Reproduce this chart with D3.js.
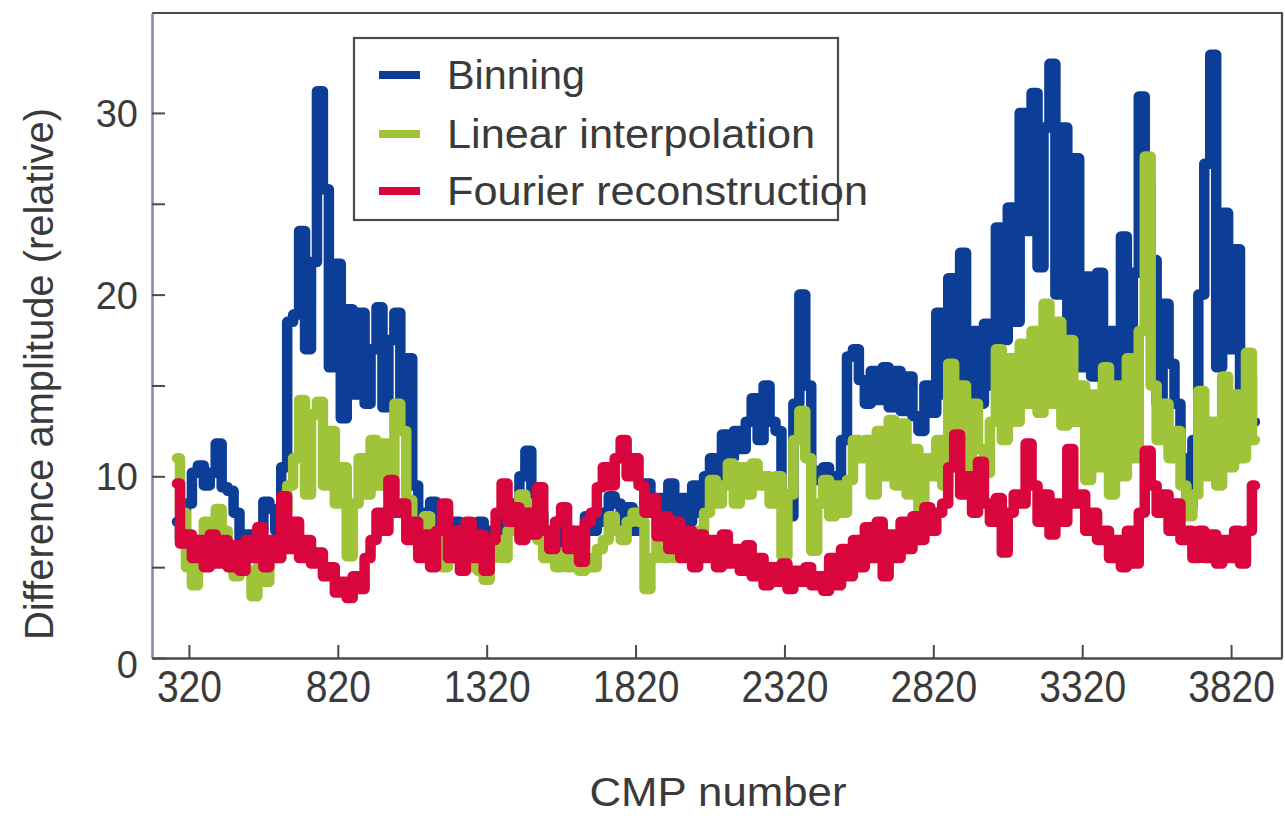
<!DOCTYPE html>
<html>
<head>
<meta charset="utf-8">
<script src="https://cdn.jsdelivr.net/npm/d3@7"></script>
<style>
  html, body { margin: 0; padding: 0; background: #ffffff; }
  svg { display: block; }
  text { font-family: "Liberation Sans", Arial, Helvetica, sans-serif; fill: #3a3a3a; }
</style>
</head>
<body>
<svg id="chart" width="1285" height="816"></svg>
<script>
// CMP sampling grid (one value every 20 CMPs, from CMP 280)
const cmpStart = 280;
const cmpStep = 20;

// Difference amplitude for each regularisation method
const binning = [
  7.5, 6.5, 8.5, 10.2, 10.6, 9.5, 10.2, 11.8, 9.4, 9.2,
  8.0, 6.5, 6.8, 6.0, 7.0, 8.6, 8.2, 7.0, 10.5, 18.5,
  18.9, 23.5, 17.0, 21.8, 31.2, 25.8, 16.0, 21.7, 13.2, 19.2,
  14.5, 19.0, 14.0, 17.0, 19.3, 13.8, 17.5, 19.0, 13.0, 16.5,
  9.5, 7.0, 8.0, 8.6, 7.0, 8.2, 6.5, 7.5, 6.0, 7.0,
  6.5, 7.5, 6.0, 7.0, 6.5, 7.5, 7.0, 8.5, 10.0, 11.4,
  9.0, 8.0, 7.0, 6.5, 7.5, 6.0, 7.0, 6.5, 6.0, 7.8,
  7.0, 7.5, 8.0, 8.9, 8.5, 7.5, 8.3, 7.0, 8.0, 9.6,
  8.0, 8.8, 7.5, 9.6, 8.0, 8.8, 7.5, 9.5, 8.0, 10.0,
  11.0, 10.0, 12.3, 11.0, 12.5, 11.5, 13.0, 14.3, 12.0, 15.0,
  13.0, 12.5, 9.0, 7.8, 14.0, 20.0, 15.0, 10.3, 9.8, 10.5,
  9.5, 10.0, 12.0, 16.6, 17.0, 15.3, 14.0, 15.8, 14.2, 16.0,
  13.8, 15.8, 13.6, 15.5, 13.3, 12.5, 15.0, 13.5, 19.0, 14.5,
  20.9, 15.0, 22.3, 14.5, 18.0, 14.0, 18.4, 15.0, 23.7, 17.5,
  24.8, 18.5, 30.0, 23.5, 31.1, 21.5, 29.2, 32.7, 20.0, 29.2,
  17.0, 27.5, 16.0, 21.0, 15.5, 21.2, 14.5, 18.0, 14.0, 23.2,
  15.0, 21.2, 30.9, 26.0, 21.9, 14.0, 19.5, 16.2, 14.0, 11.0,
  8.3, 12.0, 20.0, 27.2, 33.2, 16.0, 24.5, 17.0, 22.5, 14.0,
  15.5, 13.0
];

const linearInterp = [
  11.0, 8.0, 5.0, 4.0, 6.5, 7.5, 6.0, 8.2, 7.0, 5.5,
  4.5, 6.0, 4.8, 3.4, 5.0, 4.2, 6.0, 5.5, 8.0, 9.5,
  11.0, 14.2, 9.0, 13.4, 14.1, 9.5, 12.5, 8.5, 10.5, 5.6,
  8.5, 11.0, 9.0, 12.0, 9.5, 11.8, 9.0, 14.0, 12.5, 8.7,
  7.5, 6.0, 7.8, 5.5, 6.8, 5.0, 6.5, 5.5, 7.0, 5.0,
  6.5, 4.8, 4.3, 5.5, 6.5, 5.5, 7.0, 8.0, 9.0, 8.5,
  8.0, 6.5, 5.5, 6.0, 5.0, 5.8, 5.0, 5.5, 4.8, 5.5,
  5.0, 6.0, 6.5, 7.8, 7.0, 6.5, 7.5, 8.0, 7.5, 3.8,
  5.5, 6.5, 5.5, 6.0, 5.5, 6.5, 5.8, 6.5, 7.0, 8.0,
  9.8, 8.5, 9.5, 10.7, 8.5, 10.5, 9.0, 10.7, 9.5, 10.0,
  8.5, 10.0, 5.6, 9.0, 12.0, 13.6, 11.0, 5.9, 8.5, 9.8,
  7.8, 9.5, 8.0, 9.8, 12.0, 11.0, 12.0, 9.0, 12.5, 10.0,
  13.1, 9.5, 12.9, 9.0, 11.5, 8.1, 11.0, 10.0, 12.0, 9.5,
  16.2, 11.0, 15.0, 10.5, 14.0, 11.5, 10.2, 13.0, 17.0, 12.0,
  16.5, 13.0, 17.3, 14.0, 18.0, 13.5, 19.5, 14.0, 18.5, 12.8,
  17.5, 13.0, 15.0, 9.8, 14.5, 10.5, 16.0, 9.0, 15.0, 10.0,
  16.5, 11.0, 18.0, 27.6, 15.0, 12.0, 14.0, 11.0, 12.5, 9.5,
  7.8, 9.0, 14.7, 10.0, 13.0, 9.5, 15.5, 10.5, 14.5, 11.0,
  16.8, 12.0
];

const fourier = [
  9.6, 6.3, 6.8, 5.5, 6.5, 5.0, 6.8, 5.2, 6.5, 5.0,
  6.2, 4.8, 6.5, 5.5, 7.2, 5.0, 6.5, 5.5, 8.9, 6.0,
  7.5, 5.5, 6.5, 5.2, 5.8, 4.5, 5.0, 3.6, 4.2, 3.3,
  4.5, 3.8, 5.5, 6.5, 8.0, 7.0, 9.8, 8.0, 8.5, 6.5,
  7.5, 5.5, 6.8, 5.0, 7.0, 8.5, 5.5, 7.0, 4.8, 7.5,
  5.5, 6.8, 4.8, 6.5, 8.0, 9.6, 7.5, 8.3, 6.5, 8.0,
  6.8, 9.4, 7.0, 6.0, 7.5, 8.3, 6.0, 7.0, 5.3, 7.5,
  8.0, 9.4, 10.5, 9.5, 11.0, 12.0, 10.0, 11.0, 9.5, 8.0,
  8.8, 6.7, 7.8, 6.0, 7.5, 5.5, 7.0, 5.0, 6.8, 5.5,
  6.5, 5.0, 6.8, 5.2, 6.0, 4.8, 6.2, 4.5, 5.5, 4.0,
  5.0, 4.2, 5.2, 3.8, 4.8, 4.2, 5.0, 4.0, 4.5, 3.7,
  5.5, 4.0, 6.0, 4.5, 6.5, 5.0, 7.2, 5.5, 7.5, 4.5,
  6.8, 5.5, 7.5, 6.0, 7.8, 6.5, 8.3, 7.0, 8.0, 8.5,
  10.5, 12.3, 9.0, 10.0, 8.0, 10.8, 8.5, 7.5, 8.8, 5.8,
  8.0, 9.0, 8.5, 11.8, 9.5, 7.5, 9.0, 6.8, 8.5, 7.5,
  11.5, 8.5, 9.0, 7.0, 8.0, 6.5, 7.0, 5.5, 6.5, 5.0,
  7.0, 5.2, 8.0, 11.4, 9.5, 8.0, 9.0, 7.0, 8.5, 6.5,
  7.0, 5.5, 7.0, 5.5, 6.8, 5.2, 6.5, 5.5, 7.0, 5.2,
  7.0, 9.5
];

const seriesNames = ["Binning", "Linear interpolation", "Fourier reconstruction"];
const seriesColors = ["#0c3d97", "#9fc43a", "#d9063d"];

const xTickValues = [320, 820, 1320, 1820, 2320, 2820, 3320, 3820];
const yTickValues = [0, 5, 10, 15, 20, 25, 30];
const yLabelValues = [0, 10, 20, 30];

const xTitle = "CMP number";
const yTitle = "Difference amplitude (relative)";

// ---- layout
const svg = d3.select("#chart");
const plotLeft = 152, plotRight = 1282, plotTop = 13, plotBottom = 658;

const x = d3.scaleLinear().domain([196, 3991]).range([plotLeft, plotRight]);
const y = d3.scaleLinear().domain([0, 35.5]).range([plotBottom, plotTop]);

const cmp = binning.map((_, i) => cmpStart + i * cmpStep);
const series = [binning, linearInterp, fourier];

// ---- data lines (blue underneath, red on top); each value is held
// across its CMP bin, which gives the blocky traces
const line = d3.line()
  .x((d, i) => x(cmp[i]))
  .y(d => y(d))
  .curve(d3.curveStep);

svg.append("g")
  .selectAll("path")
  .data(series)
  .join("path")
  .attr("d", d => line(d))
  .attr("fill", "none")
  .attr("stroke", (d, i) => seriesColors[i])
  .attr("stroke-width", 10.5)
  .attr("stroke-linejoin", "round")
  .attr("stroke-linecap", "round");

// ---- frame (top and right)
svg.append("path")
  .attr("d", `M${plotLeft},${plotTop}H${plotRight}V${plotBottom}`)
  .attr("fill", "none")
  .attr("stroke", "#4a4a4a")
  .attr("stroke-width", 2.2);

// ---- x axis
const xAxis = d3.axisBottom(x)
  .tickValues(xTickValues)
  .tickSizeInner(-13)
  .tickSizeOuter(0)
  .tickPadding(13)
  .tickFormat(d3.format("d"));

const gx = svg.append("g")
  .attr("transform", `translate(0,${plotBottom})`)
  .call(xAxis);
gx.select(".domain").attr("stroke", "#4a4a4a").attr("stroke-width", 2.6);
gx.selectAll(".tick line").attr("stroke", "#4a4a4a").attr("stroke-width", 2);
gx.selectAll(".tick text")
  .attr("font-family", "'Liberation Sans', Arial, sans-serif")
  .attr("font-size", 44)
  .attr("fill", "#3a3a3a")
  .attr("textLength", d => String(d).length * 21.7)
  .attr("lengthAdjust", "spacingAndGlyphs");

// ---- y axis
const yAxis = d3.axisLeft(y)
  .tickValues(yTickValues)
  .tickSizeInner(-13)
  .tickSizeOuter(0)
  .tickPadding(14)
  .tickFormat(d => yLabelValues.includes(d) ? String(d) : "");

const gy = svg.append("g")
  .attr("transform", `translate(${plotLeft},0)`)
  .call(yAxis);
gy.select(".domain").attr("stroke", "#8b84c4").attr("stroke-width", 2.6);
gy.selectAll(".tick line").attr("stroke", "#4a4a4a").attr("stroke-width", 2);
gy.selectAll(".tick text")
  .attr("font-family", "'Liberation Sans', Arial, sans-serif")
  .attr("font-size", 38)
  .attr("fill", "#3a3a3a")
  .attr("dy", "0.36em");
gy.selectAll(".tick text").filter(d => d === 0).attr("dy", "0.5em");

// ---- axis titles
svg.append("text")
  .attr("x", 718)
  .attr("y", 806)
  .attr("text-anchor", "middle")
  .attr("font-size", 40)
  .attr("textLength", 257)
  .attr("lengthAdjust", "spacingAndGlyphs")
  .text(xTitle);

svg.append("text")
  .attr("transform", "translate(53,374) rotate(-90)")
  .attr("text-anchor", "middle")
  .attr("font-size", 40)
  .attr("textLength", 532)
  .attr("lengthAdjust", "spacingAndGlyphs")
  .text(yTitle);

// ---- legend
const legend = svg.append("g");
legend.append("rect")
  .attr("x", 354).attr("y", 38)
  .attr("width", 484).attr("height", 182)
  .attr("fill", "none")
  .attr("stroke", "#4a4a4a")
  .attr("stroke-width", 2.2);

const legendRows = [75, 134, 191];
const legendWidths = [138, 368, 421];
const items = legend.selectAll("g.item")
  .data(seriesNames)
  .join("g")
  .attr("class", "item")
  .attr("transform", (d, i) => `translate(0,${legendRows[i]})`);

items.append("line")
  .attr("x1", 379).attr("x2", 420)
  .attr("y1", 0).attr("y2", 0)
  .attr("stroke", (d, i) => seriesColors[i])
  .attr("stroke-width", 8);

items.append("text")
  .attr("x", 447)
  .attr("y", 0)
  .attr("dy", "0.36em")
  .attr("font-size", 40)
  .attr("textLength", (d, i) => legendWidths[i])
  .attr("lengthAdjust", "spacingAndGlyphs")
  .text(d => d);
</script>
</body>
</html>
